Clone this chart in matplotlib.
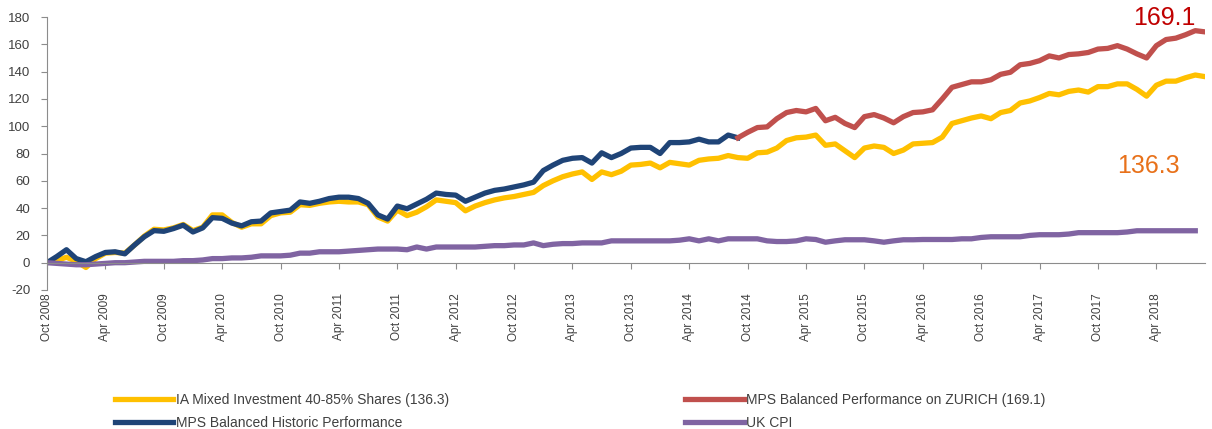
import matplotlib.pyplot as plt
import numpy as np

# monthly cumulative performance (%), Oct 2008 onwards
ia_mixed = [
    0, 1.5, 4, 1, -3.5, 3, 7, 7.5, 7, 13,
    19.5, 24.5, 24, 25.5, 28, 23.5, 26, 35, 35, 29.5,
    26, 28.5, 28.5, 34.5, 36.5, 37, 42.5, 42, 43.5, 44.5,
    45, 44.5, 44.5, 42.5, 33.5, 30.5, 38.5, 34.5, 37, 41,
    46, 45, 44, 38, 41.5, 44, 46, 47.5, 48.5, 50,
    51.5, 56.5, 60, 63, 65, 66.5, 61, 66.5, 64.5, 67,
    71.5, 72, 73, 69.5, 73.5, 72.5, 71.5, 75, 76, 76.5,
    78.5, 77, 76.5, 80.5, 81, 84, 89.5, 91.5, 92, 93.5,
    86, 87, 82, 77, 84, 85.5, 84.5, 80, 82.5, 87,
    87.5, 88, 92, 102, 104, 106, 107.5, 105.5, 110, 111.5,
    117, 118.5, 121, 124, 123, 125.5, 126.5, 125, 129, 129,
    131, 131, 127, 122, 130, 133, 133, 135.5, 137.5, 136.3,
]
mps_historic = [
    0, 4.5, 9.5, 3, 0.7, 4.5, 7.5, 8, 6.5, 13,
    19, 23.5, 23, 25, 27.5, 22.5, 25.5, 33, 32.5, 29,
    27, 30, 30.5, 36.5, 37.5, 38.5, 44.5, 43.5, 45, 47,
    48, 48, 47, 43.5, 35, 32, 41.5, 39.5, 43, 46.5,
    51, 50, 49.5, 45, 48, 51, 53, 54, 55.5, 57,
    59, 67.5, 71.5, 75, 76.5, 77, 73, 80.5, 77, 80,
    84, 84.5, 84.5, 80, 88, 88, 88.5, 90.5, 88.5, 88.5,
    93.5, 91.5,
]
mps_zurich = [
    91.5, 95.5, 99, 99.5, 105.5, 110, 111.5, 110.5, 113,
    104, 106.5, 102, 99, 107, 108.5, 106, 102.5, 107, 110,
    110.5, 112, 120, 128.5, 130.5, 132.5, 132.5, 134, 138, 139.5,
    145, 146, 148, 151.5, 150, 152.5, 153, 154, 156.5, 157,
    159, 156.5, 153, 150, 159, 163.5, 164.5, 167, 170, 169.1,
]
zurich_start = 71
uk_cpi = [
    0, -0.5, -1, -1.5, -1.5, -1, -0.5, 0, 0, 0.5,
    1, 1, 1, 1, 1.5, 1.5, 2, 3, 3, 3.5,
    3.5, 4, 5, 5, 5, 5.5, 7, 7, 8, 8,
    8, 8.5, 9, 9.5, 10, 10, 10, 9.5, 11.5, 10,
    11.5, 11.5, 11.5, 11.5, 11.5, 12, 12.5, 12.5, 13, 13,
    14.5, 12.5, 13.5, 14, 14, 14.5, 14.5, 14.5, 16, 16,
    16, 16, 16, 16, 16, 16.5, 17.5, 16, 17.5, 16,
    17.5, 17.5, 17.5, 17.5, 16, 15.5, 15.5, 16, 17.5, 17,
    15, 16, 16.8, 16.8, 16.8, 16, 15, 16, 16.8, 16.8,
    17, 17, 17, 17, 17.5, 17.5, 18.5, 19, 19, 19,
    19, 20, 20.5, 20.5, 20.5, 21, 22, 22, 22, 22,
    22, 22.5, 23.4, 23.4, 23.4, 23.4, 23.4, 23.4, 23.4,
]
tick_labels = [
    "Oct 2008", "Apr 2009", "Oct 2009", "Apr 2010", "Oct 2010",
    "Apr 2011", "Oct 2011", "Apr 2012", "Oct 2012", "Apr 2013",
    "Oct 2013", "Apr 2014", "Oct 2014", "Apr 2015", "Oct 2015",
    "Apr 2016", "Oct 2016", "Apr 2017", "Oct 2017", "Apr 2018",
]
series_names = [
    "IA Mixed Investment 40-85% Shares (136.3)",
    "MPS Balanced Historic Performance",
    "MPS Balanced Performance on ZURICH (169.1)",
    "UK CPI",
]

plt.rcParams["font.family"] = ["Liberation Sans", "DejaVu Sans"]
plt.rcParams["axes.unicode_minus"] = False

fig = plt.figure(figsize=(12.12, 4.29), dpi=100)
ax = fig.add_axes([47 / 1212, 1 - 290 / 429, (1205 - 47) / 1212, (290 - 17) / 429])

lw = 3.8
h_ia, = ax.plot(np.arange(len(ia_mixed)), ia_mixed, color="#FFC000", lw=lw)
h_hist, = ax.plot(np.arange(len(mps_historic)), mps_historic, color="#1F4477", lw=lw)
h_zur, = ax.plot(np.arange(len(mps_zurich)) + zurich_start, mps_zurich, color="#C0504D", lw=lw)
h_cpi, = ax.plot(np.arange(len(uk_cpi)), uk_cpi, color="#8064A2", lw=lw)

ax.set_xlim(0, len(ia_mixed) - 1)
ax.set_ylim(-20, 180)
ax.set_yticks(np.arange(-20, 181, 20))
ax.set_xticks(np.arange(0, 6 * len(tick_labels), 6))
ax.set_xticklabels(tick_labels)

for side in ("top", "right"):
    ax.spines[side].set_visible(False)
ax.spines["bottom"].set_position(("data", 0))
ax.spines["bottom"].set_color("#8C8C8C")
ax.spines["left"].set_color("#8C8C8C")
ax.tick_params(axis="y", direction="out", length=4, color="#8C8C8C",
               labelsize=9.5, labelcolor="#404040", pad=8)
ax.tick_params(axis="x", direction="out", length=4, color="#8C8C8C",
               labelsize=8.5, labelcolor="#404040", pad=18, labelrotation=90)

ax.text(114.8, 179, "169.1", color="#C00000", fontsize=18, ha="center", va="center")
ax.text(113.2, 71, "136.3", color="#E8711A", fontsize=18, ha="center", va="center")

fig.legend([h_ia, h_hist, h_zur, h_cpi], series_names, ncol=2, frameon=False,
           loc="upper left", bbox_to_anchor=(115 / 1212, 1 - 393 / 429),
           borderpad=0, borderaxespad=0, handlelength=4.2, handletextpad=0.2,
           columnspacing=17, labelspacing=0.63, fontsize=10, labelcolor="#404040")

fig.savefig("out.png", dpi=100)
